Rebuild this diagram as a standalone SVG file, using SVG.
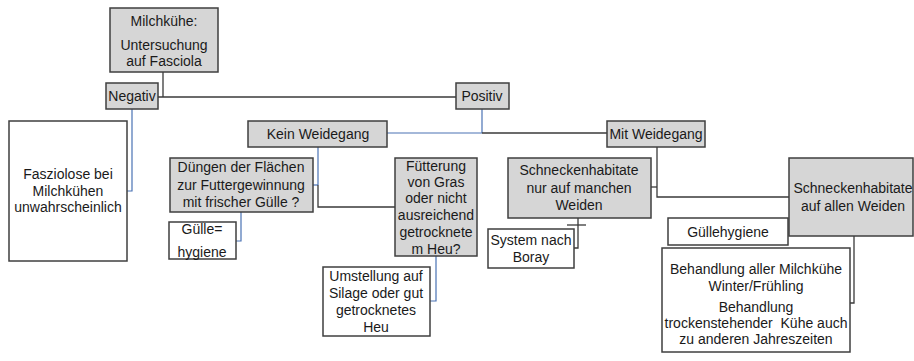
<svg xmlns="http://www.w3.org/2000/svg" width="914" height="361" viewBox="0 0 914 361">
<style>
.g{fill:#d6d6d6;stroke:#3f3f3f;stroke-width:1.5}
.w{fill:#ffffff;stroke:#3f3f3f;stroke-width:1.5}
text{font-family:"Liberation Sans",Arial,sans-serif;font-size:14px;fill:#1a1a1a;text-anchor:middle;dominant-baseline:central}
.d{fill:none;stroke:#3a3a3a;stroke-width:1.3}
.b{fill:none;stroke:#4a72b4;stroke-width:1.2}
</style>
<rect width="914" height="361" fill="#ffffff"/>
<g id="connectors">
<polyline class="d" points="163,72 163,97"/>
<polyline class="d" points="158,97 456,97"/>
<polyline class="b" points="482,109 482,133"/>
<polyline class="b" points="387,133 482,133"/>
<polyline class="d" points="482,133 607,133"/>
<polyline class="b" points="132,109 132,191 127,191"/>
<polyline class="b" points="318,147 318,185"/>
<polyline class="b" points="318,185 313,185"/>
<polyline class="d" points="318,185 318,207 395,207"/>
<polyline class="b" points="241,212 241,241 236,241"/>
<polyline class="b" points="436,256 436,301 430,301"/>
<polyline class="d" points="578,218 578,248 574,248"/>
<polyline class="d" points="567,225 586,225"/>
<polyline class="d" points="657,147 657,197 789,197"/>
<polyline class="d" points="657,187 651,187"/>
<polyline class="d" points="854,236 854,303 850,303"/>
</g>
<g id="milchkuehe"><rect class="g" x="110" y="8" width="108" height="64"/><text x="164" y="21">Milchkühe:</text><text x="164" y="45">Untersuchung</text><text x="164" y="61">auf Fasciola</text></g>
<g id="negativ"><rect class="g" x="106" y="83" width="52" height="26"/><text x="132" y="96">Negativ</text></g>
<g id="positiv"><rect class="g" x="456" y="83" width="53" height="26"/><text x="482" y="96">Positiv</text></g>
<g id="fasziolose"><rect class="w" x="9" y="121" width="118" height="140"/><text x="68" y="174">Fasziolose bei</text><text x="68" y="191">Milchkühen</text><text x="68" y="207">unwahrscheinlich</text></g>
<g id="kein-weidegang"><rect class="g" x="248" y="121" width="139" height="26"/><text x="318" y="134">Kein Weidegang</text></g>
<g id="mit-weidegang"><rect class="g" x="607" y="121" width="98" height="26"/><text x="656" y="134">Mit Weidegang</text></g>
<g id="duengen"><rect class="g" x="170" y="158" width="143" height="54"/><text x="241" y="167">Düngen der Flächen</text><text x="241" y="185">zur Futtergewinnung</text><text x="241" y="202">mit frischer Gülle ?</text></g>
<g id="guelle"><rect class="w" x="169" y="222" width="67" height="37"/><text x="202" y="229">Gülle=</text><text x="202" y="252">hygiene</text></g>
<g id="fuetterung"><rect class="g" x="395" y="158" width="82" height="98"/><text x="436" y="166">Fütterung</text><text x="436" y="182">von Gras</text><text x="436" y="198">oder nicht</text><text x="436" y="215">ausreichend</text><text x="436" y="232">getrocknete</text><text x="436" y="249">m Heu?</text></g>
<g id="umstellung"><rect class="w" x="323" y="267" width="107" height="69"/><text x="376" y="276">Umstellung auf</text><text x="376" y="293">Silage oder gut</text><text x="376" y="310">getrocknetes</text><text x="376" y="327">Heu</text></g>
<g id="schnecken-manchen"><rect class="g" x="508" y="158" width="143" height="60"/><text x="579" y="170">Schneckenhabitate</text><text x="579" y="188">nur auf manchen</text><text x="579" y="205">Weiden</text></g>
<g id="system-boray"><rect class="w" x="488" y="229" width="86" height="39"/><text x="531" y="240">System nach</text><text x="531" y="257">Boray</text></g>
<g id="schnecken-allen"><rect class="g" x="789" y="158" width="124" height="78"/><text x="853" y="188">Schneckenhabitate</text><text x="853" y="206">auf allen Weiden</text></g>
<g id="guellehygiene"><rect class="w" x="668" y="218" width="120" height="27"/><text x="728" y="232">Güllehygiene</text></g>
<g id="behandlung"><rect class="w" x="662" y="248" width="188" height="104"/><text x="756" y="269">Behandlung aller Milchkühe</text><text x="756" y="286">Winter/Frühling</text><text x="756" y="307">Behandlung</text><text x="756" y="323" xml:space="preserve">trockenstehender  Kühe auch</text><text x="756" y="339">zu anderen Jahreszeiten</text></g>
</svg>
